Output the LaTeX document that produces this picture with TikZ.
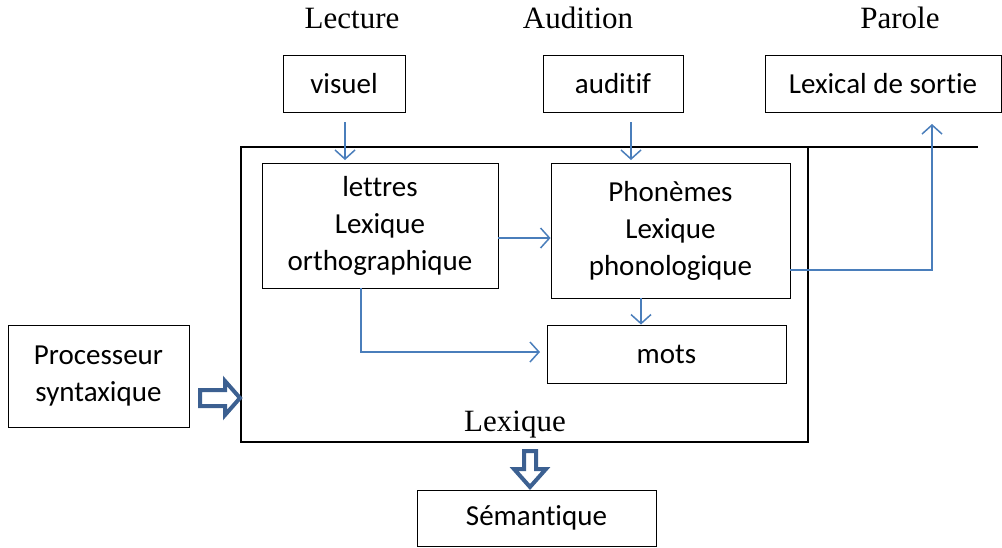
\documentclass[tikz,border=0pt]{standalone}
\usepackage{fontspec}
\setmainfont{Carlito}[Ligatures=NoCommon]
\newfontfamily\serifT{Liberation Serif}
\usetikzlibrary{arrows.meta}
\definecolor{lnblue}{RGB}{74,126,187}
\definecolor{bigblue}{RGB}{60,96,145}
\begin{document}
\begin{tikzpicture}[x=1pt,y=-1pt,
  box/.style={draw=black,line width=0.9pt,inner sep=0pt,align=center,font=\fontsize{29}{37}\selectfont},
  title/.style={inner sep=0pt,font=\serifT\fontsize{31}{36}\selectfont},
  conn/.style={draw=lnblue,line width=1.5pt,-{Straight Barb[length=9pt,width=20pt,line width=1.5pt]}},
  hollow/.style={draw=bigblue,line width=4pt,fill=white,line join=miter}]
\useasboundingbox (0,0) rectangle (1002,547);
% titles
\node[title] (tlec) at (352,18) {Lecture};
\node[title] (taud) at (578,18) {Audition};
\node[title] (tpar) at (900,18) {Parole};
% big lexique box
\node[draw=black,line width=1.8pt,minimum width=567pt,minimum height=295pt,inner sep=0pt,outer sep=0pt] (lex) at (524.5,294.5) {};
\coordinate (topend) at (978,147);
\draw[line width=1.8pt] (lex.north east) -- (topend);
\node[title] (lexlabel) at (515,425) {Lexique};
% boxes
\node[box,minimum width=122pt,minimum height=57pt] (vis) at (344,83.5) {visuel};
\node[box,minimum width=140pt,minimum height=57pt] (aud) at (613,83.5) {auditif};
\node[box,minimum width=236pt,minimum height=57pt] (sor) at (883,83.5) {Lexical de sortie};
\node[box,minimum width=236pt,minimum height=125pt] (let) at (380,225.5) {\raisebox{-3pt}{}lettres\\Lexique\\orthographique};
\node[box,minimum width=239pt,minimum height=135pt] (pho) at (670.5,230.5) {Phonèmes\\Lexique\\phonologique};
\node[box,minimum width=239pt,minimum height=58pt] (mot) at (666.5,354) {mots};
\node[box,minimum width=181pt,minimum height=102pt] (pro) at (98.5,376) {Processeur\\syntaxique};
\node[box,minimum width=239pt,minimum height=56pt] (sem) at (536.5,518) {Sémantique};
% connectors
\coordinate (visA) at (345,122);
\coordinate (visB) at (345,160);
\draw[conn] (visA) -- (visB);
\coordinate (audA) at (631,122);
\coordinate (audB) at (631,160);
\draw[conn] (audA) -- (audB);
\draw[conn] (let.east |- 0,238) -- (pho.west |- 0,238);
\draw[conn] (pho.south -| 641,0) -- (mot.north -| 641,0);
\coordinate (motin) at (540,352);
\draw[conn] (let.south -| 361,0) |- (motin);
\coordinate (sorin) at (932,124);
\draw[conn] (pho.east |- 0,270) -| (sorin);
% hollow arrows
\draw[hollow] (200,390) -- (225,390) -- (225,381) -- (240,398) -- (225,415) -- (225,406) -- (200,406) -- cycle;
\draw[hollow] (524,451) -- (536,451) -- (536,469) -- (546,469) -- (530,487) -- (514,469) -- (524,469) -- cycle;
\end{tikzpicture}
\end{document}
